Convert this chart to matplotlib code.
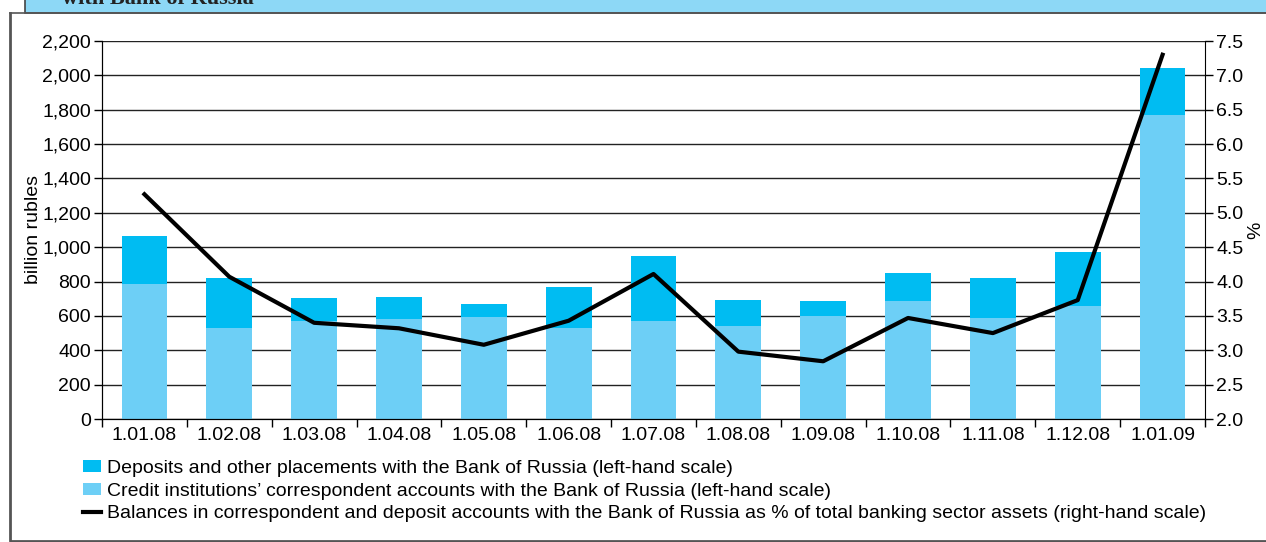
import numpy as np
import matplotlib.pyplot as plt
from matplotlib.patches import Rectangle, Patch
from matplotlib.lines import Line2D

plt.rcParams["font.family"] = ["Liberation Sans", "DejaVu Sans"]

dates = [
    "1.01.08", "1.02.08", "1.03.08", "1.04.08", "1.05.08", "1.06.08", "1.07.08",
    "1.08.08", "1.09.08", "1.10.08", "1.11.08", "1.12.08", "1.01.09",
]
# correspondent accounts, billion rubles
corr_accounts = [786, 530, 572, 582, 593, 530, 572, 541, 599, 687, 588, 658, 1769]
# deposits and other placements, billion rubles
deposits = [279, 291, 132, 128, 76, 238, 377, 152, 88, 163, 233, 314, 274]
# share of total banking sector assets, %
share_pct = [5.27, 4.07, 3.40, 3.32, 3.08, 3.43, 4.11, 2.98, 2.84, 3.47, 3.25, 3.73, 7.30]

c_dep = "#00bcf2"
c_corr = "#6dcff6"

fig = plt.figure(figsize=(12.66, 5.42), dpi=100)

# frame and title strip
fig.add_artist(Rectangle((25 / 1266, 529 / 542), 1.0, 0.05, transform=fig.transFigure,
                         facecolor="#8dd8f6", edgecolor="#444444", lw=1.2))
fig.text(62 / 1266, 533 / 542, "with Bank of Russia", fontsize=16, fontweight="bold",
         family="Liberation Serif", color="#222222", va="bottom")
fig.add_artist(Line2D([10 / 1266, 10 / 1266, 1.0], [529 / 542, 1.5 / 542, 1.5 / 542],
                      transform=fig.transFigure, color="#555555", lw=2))
fig.add_artist(Line2D([10 / 1266, 1.0], [529 / 542, 529 / 542],
                      transform=fig.transFigure, color="#555555", lw=1.2))

ax = fig.add_axes([102 / 1266, 123 / 542, 1103 / 1266, 378 / 542])
x = np.arange(len(dates))
w = 0.54
ax.bar(x, corr_accounts, w, color=c_corr, zorder=2)
ax.bar(x, deposits, w, bottom=corr_accounts, color=c_dep, zorder=2)

ax.set_xlim(-0.5, len(dates) - 0.5)
ax.set_ylim(0, 2200)
ax.set_yticks(np.arange(0, 2201, 200))
ax.set_yticklabels([f"{v:,}" for v in range(0, 2201, 200)])
ax.grid(axis="y", color="#222222", lw=1, zorder=1)
ax.set_xticks(x)
ax.set_xticklabels(dates)
ax.set_xticks(np.arange(-0.5, len(dates)), minor=True)
ax.tick_params(axis="x", which="major", length=0, pad=6, labelsize=14)
ax.tick_params(axis="x", which="minor", length=6, width=1)
ax.tick_params(axis="y", length=6, width=1, labelsize=14, pad=2)
for s in ["top", "right"]:
    ax.spines[s].set_visible(False)
ax.set_ylabel("billion rubles", fontsize=14)
ax.yaxis.set_label_coords(-0.054, 0.5)

ax2 = ax.twinx()
ax2.plot(x, share_pct, color="black", lw=3, zorder=4)
ax2.set_ylim(2.0, 7.5)
ax2.set_yticks(np.arange(2.0, 7.51, 0.5))
ax2.set_yticklabels([f"{v:.1f}" for v in np.arange(2.0, 7.51, 0.5)])
ax2.tick_params(axis="y", length=6, width=1, labelsize=14, pad=2)
ax2.spines["top"].set_visible(False)
ax2.set_ylabel("%", fontsize=14)
ax2.yaxis.set_label_coords(1.038, 0.5)

handles = [
    Patch(facecolor=c_dep),
    Patch(facecolor=c_corr),
    Line2D([], [], color="black", lw=3),
]
labels = [
    "Deposits and other placements with the Bank of Russia (left-hand scale)",
    "Credit institutions\u2019 correspondent accounts with the Bank of Russia (left-hand scale)",
    "Balances in correspondent and deposit accounts with the Bank of Russia as % of total banking sector assets (right-hand scale)",
]
fig.legend(handles, labels, loc="upper left", bbox_to_anchor=(73 / 1266, 92 / 542),
           frameon=False, fontsize=14, handlelength=0.95, handleheight=0.6,
           handletextpad=0.3, labelspacing=0.3, borderpad=0)

fig.savefig("out.png", dpi=100)
